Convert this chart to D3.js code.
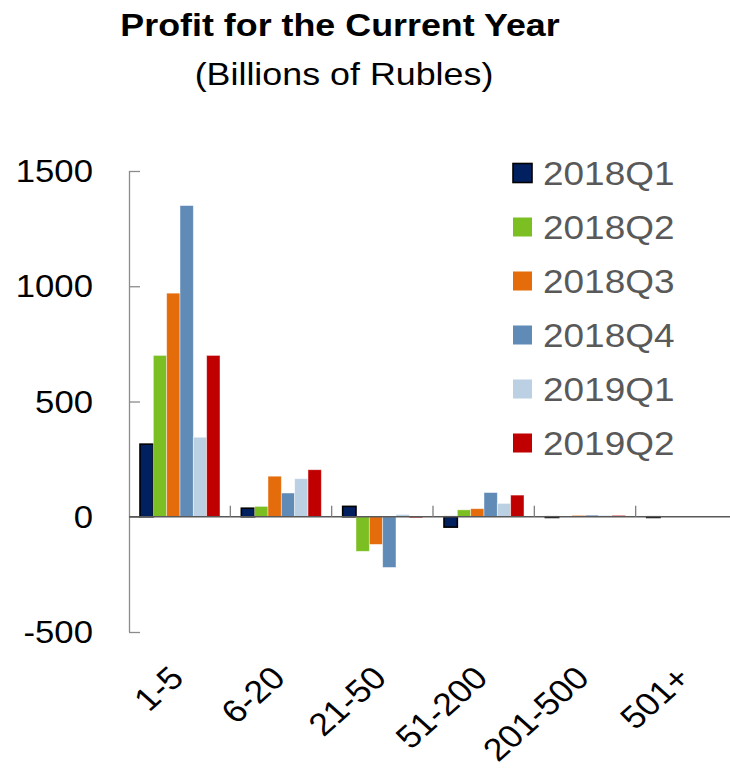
<!DOCTYPE html>
<html>
<head>
<meta charset="utf-8">
<script src="https://cdn.jsdelivr.net/npm/d3@7"></script>
<style>
  html, body { margin: 0; padding: 0; background: #ffffff; }
  svg { display: block; font-family: Arial, "Liberation Sans", sans-serif; }
</style>
</head>
<body>
<svg id="chart" width="730" height="777"></svg>
<script>
// Profit by enterprise size group, billions of rubles
const categories = ["1-5", "6-20", "21-50", "51-200", "201-500", "501+"];
const seriesNames = ["2018Q1", "2018Q2", "2018Q3", "2018Q4", "2019Q1", "2019Q2"];
const s2018Q1 = [315, 37, 45, -45, -3, -3];
const s2018Q2 = [700, 45, -150, 30, 1, 0];
const s2018Q3 = [970, 176, -120, 35, 6, 0];
const s2018Q4 = [1350, 103, -220, 105, 7, 0];
const s2019Q1 = [345, 165, 10, 58, 6, 0];
const s2019Q2 = [700, 204, -5, 94, 6, 0];
const seriesValues = [s2018Q1, s2018Q2, s2018Q3, s2018Q4, s2019Q1, s2019Q2];
const colors = ["#002060", "#7BBF22", "#E46C0A", "#608BB7", "#BCD0E3", "#C00000"];
const yTicks = [-500, 0, 500, 1000, 1500];

// Text is drawn slightly wide
const stretch = 1.12;

const svg = d3.select("#chart");

// Titles
svg.append("text")
  .attr("transform", `translate(340,36) scale(${stretch},1)`)
  .attr("text-anchor", "middle")
  .attr("font-weight", "bold").attr("font-size", 32)
  .attr("fill", "#000")
  .text("Profit for the Current Year");
svg.append("text")
  .attr("transform", `translate(344,85) scale(${stretch},1)`)
  .attr("text-anchor", "middle")
  .attr("font-size", 32)
  .attr("fill", "#000")
  .text("(Billions of Rubles)");

// Scales
const x = d3.scaleBand().domain(categories).range([129, 737]).padding(0);
const xs = d3.scaleBand().domain(seriesNames).range([11, 91]).padding(0);
const y = d3.scaleLinear().domain([-500, 1500]).range([632, 171]);

// Y axis with inward ticks
const yAxis = svg.append("g").attr("transform", "translate(129,0)")
  .call(d3.axisRight(y).tickValues(yTicks).tickSize(11).tickFormat(""));
yAxis.select(".domain").attr("stroke", "#8c8c8c").attr("stroke-width", 1.3)
  .attr("d", `M0.5,${y(1500)}V${y(-500)}`);
yAxis.selectAll(".tick line").attr("stroke", "#8c8c8c").attr("stroke-width", 1.3);

// Y tick labels
svg.append("g").selectAll("text")
  .data(yTicks).join("text")
  .attr("transform", d => `translate(93,${y(d)}) scale(${stretch},1)`)
  .attr("dy", "0.36em")
  .attr("text-anchor", "end")
  .attr("font-size", 31)
  .attr("fill", "#000")
  .text(d => d);

// Bars
const groups = svg.append("g").selectAll("g")
  .data(categories).join("g")
  .attr("transform", d => `translate(${x(d)},0)`);

groups.selectAll("rect")
  .data((c, ci) => seriesNames.map((s, si) => ({ s, si, v: seriesValues[si][ci] })))
  .join("rect")
  .attr("x", d => xs(d.s))
  .attr("width", xs.bandwidth())
  .attr("y", d => Math.min(y(d.v), y(0)))
  .attr("height", d => Math.abs(y(d.v) - y(0)))
  .attr("fill", d => colors[d.si])
  .attr("stroke", d => d.si === 0 ? "#000" : "rgba(255,255,255,0.55)")
  .attr("stroke-width", d => d.si === 0 ? 1.6 : 0.8);

// Zero line with category separators
const xAxis = svg.append("g").attr("transform", `translate(0,${y(0)})`)
  .call(d3.axisTop(x).tickSize(0).tickFormat(""));
xAxis.select(".domain").attr("stroke", "#595959").attr("stroke-width", 1.5)
  .attr("d", "M129,0H737");
xAxis.selectAll(".tick").remove();
xAxis.selectAll(".sep")
  .data(categories.slice(1)).join("line")
  .attr("class", "sep")
  .attr("x1", d => x(d)).attr("x2", d => x(d))
  .attr("y1", 0).attr("y2", -11)
  .attr("stroke", "#7f7f7f").attr("stroke-width", 1.3);

// Rotated category labels
svg.append("g").selectAll("text")
  .data(categories).join("text")
  .attr("transform", d => `translate(${x(d) + x.bandwidth() / 2 - 13},663) scale(${stretch},1) rotate(-45)`)
  .attr("text-anchor", "end")
  .attr("dy", "0.75em")
  .attr("font-size", 32)
  .attr("fill", "#000")
  .text(d => d);

// Legend
const legend = svg.append("g").selectAll("g")
  .data(seriesNames).join("g")
  .attr("transform", (d, i) => `translate(513,${173 + i * 54})`);
legend.append("rect")
  .attr("x", 0).attr("y", -9.5)
  .attr("width", 19).attr("height", 19)
  .attr("fill", (d, i) => colors[i])
  .attr("stroke", (d, i) => i === 0 ? "#000" : "none")
  .attr("stroke-width", 1.6);
legend.append("text")
  .attr("transform", `translate(30,0) scale(${stretch},1)`)
  .attr("dy", "0.36em")
  .attr("font-size", 33)
  .attr("fill", "#595959")
  .text(d => d);
</script>
</body>
</html>
